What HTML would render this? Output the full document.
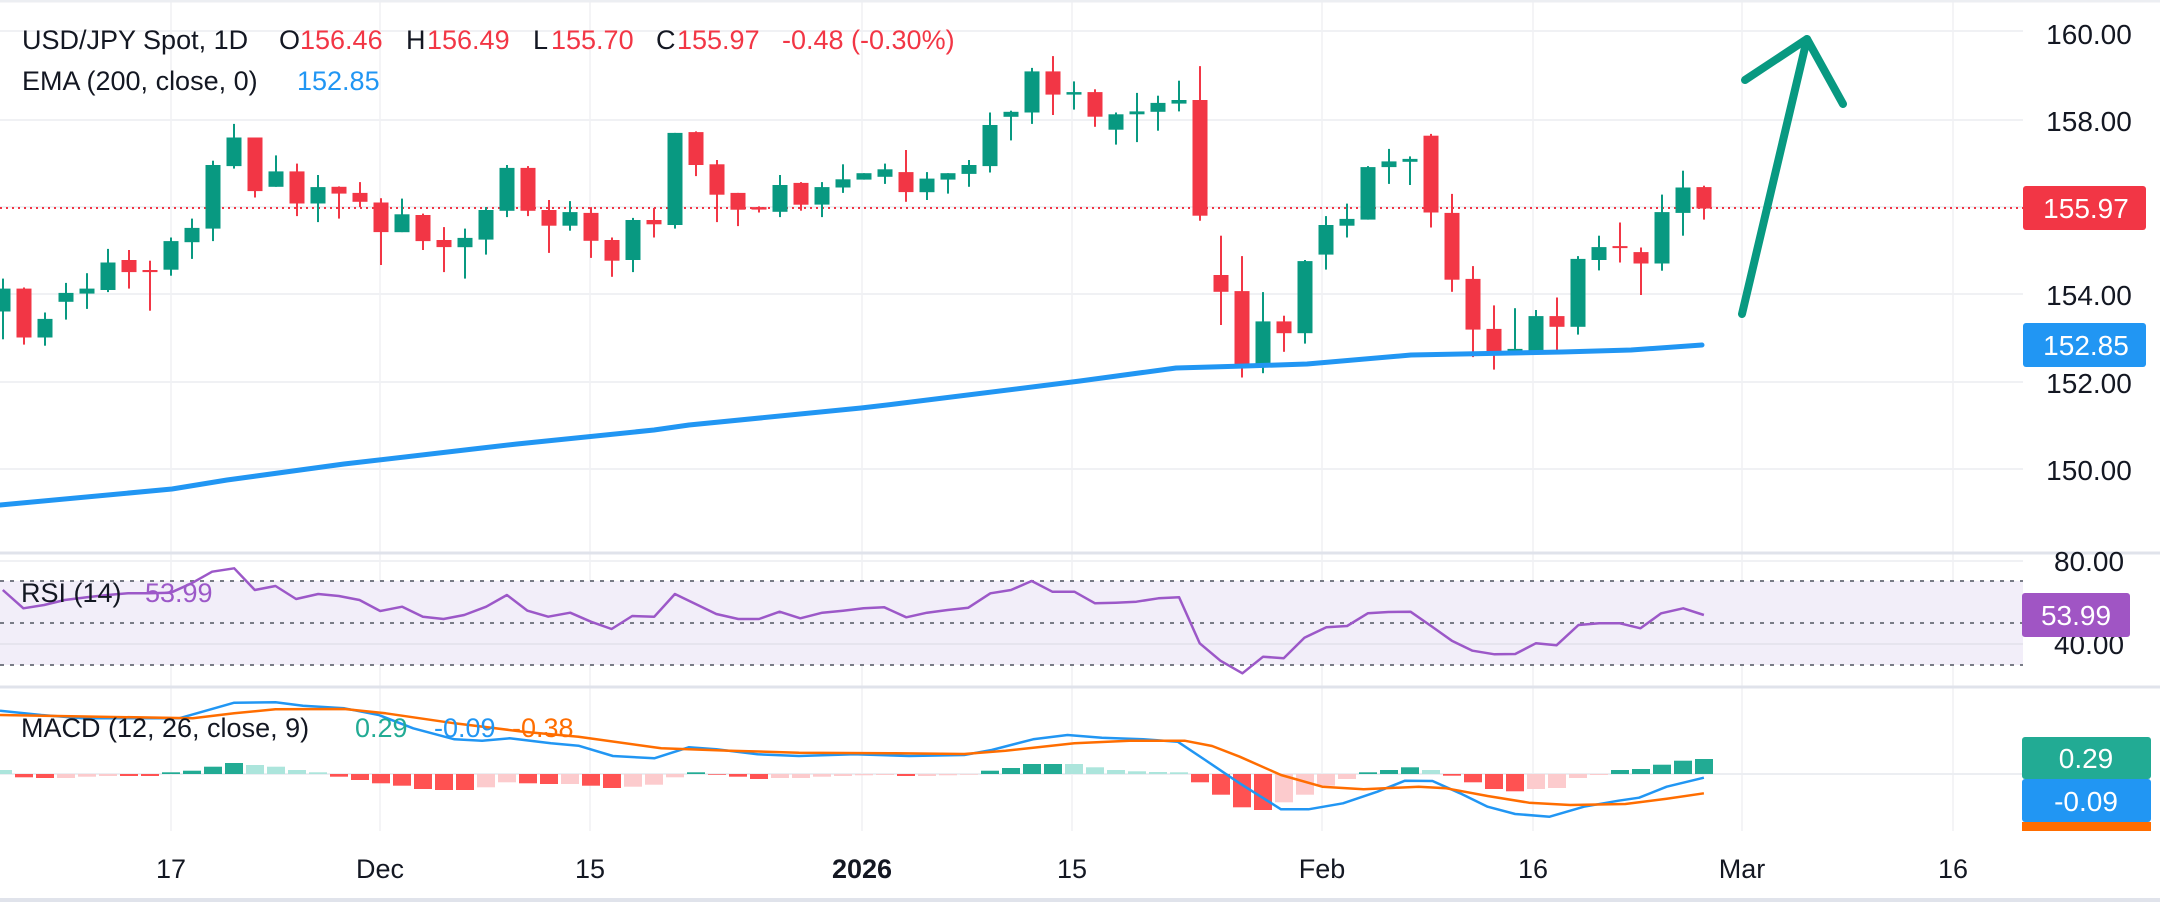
<!DOCTYPE html>
<html><head><meta charset="utf-8">
<style>
html,body{margin:0;padding:0;background:#fff;}
body{width:2160px;height:902px;overflow:hidden;position:relative;font-family:"Liberation Sans",sans-serif;}
svg{position:absolute;left:0;top:0;}
</style></head>
<body>
<svg id="s" width="2160" height="902" xmlns="http://www.w3.org/2000/svg"></svg>
<script>
(function(){
var o=[];
function X(i){return 171+21*i;}
// grid
o.push('<rect x="0" y="0" width="2160" height="902" fill="#fff"/>');
var vx=[171,380,590,862,1072,1322,1533,1742,1953];
vx.forEach(function(x){o.push('<line x1="'+x+'" y1="0" x2="'+x+'" y2="831" stroke="#f0f1f4" stroke-width="1.5"/>');});
[31,120,207,294,382,469].forEach(function(y){o.push('<line x1="0" y1="'+y+'" x2="2023" y2="'+y+'" stroke="#f0f1f4" stroke-width="2"/>');});
o.push('<line x1="0" y1="1" x2="2160" y2="1" stroke="#eceef2" stroke-width="3"/>');
// candles (zoom coords: z1 x/1.452, y/2.8)
var z1=[[8,808,872,780,950,1],[35,808,945,805,965,0],[65,893,945,875,968,1],[95,820,845,792,895,1],[125,808,822,765,865,1],[156,735,812,697,818,1],[187,728,762,700,808,0],[217,756,762,730,870,0],[248,675,755,665,772,1],[278,638,678,612,725,1],[310,462,640,450,675,1],[340,385,465,347,472,1],[370,385,535,385,553,0],[400,480,523,435,523,1],[431,480,570,458,605,0],[461,524,570,490,622,1],[491,523,542,522,612,0],[521,540,565,510,580,0],[551,567,650,555,742,0],[582,600,650,556,650,1],[612,602,675,598,700,0],[643,672,692,636,762,0],[674,666,692,640,780,1],[704,588,671,580,713,1],[734,470,590,462,608,1],[765,470,590,465,605,0],[795,588,632,560,708,0],[826,594,632,563,646,1],[856,596,674,580,722,0],[887,672,730,665,775,0],[917,616,728,610,762,1],[947,616,628,582,665,0],[978,372,630,372,640,1],[1009,370,462,368,493,0],[1039,460,545,448,622,0],[1070,540,587,540,633,0],[1100,580,587,578,595,0],[1130,518,593,490,608,1],[1161,512,573,510,590,0],[1191,524,573,510,608,1],[1222,502,525,460,540,1],[1252,485,503,485,503,1],[1283,474,495,458,515,1],[1313,482,538,420,565,0],[1344,500,538,482,560,1],[1374,485,503,485,542,1],[1405,462,487,448,523,1],[1435,350,465,315,483,1],[1466,313,327,310,393,1],[1496,200,315,190,347,1],[1527,200,265,157,322,0],[1557,258,265,228,307,1]];
var z2=[[18,258,327,250,355,0],[49,320,363,315,405,1],[79,312,320,260,398,1],[110,288,313,268,366,1],[140,280,290,226,312,1],[171,280,604,185,618,0],[202,770,817,660,910,0],[232,815,1024,717,1057,0],[262,900,1022,818,1045,1],[293,900,933,884,985,0],[323,731,933,728,962,1],[354,630,713,605,755,1],[384,613,632,570,665,1],[415,468,615,465,615,1],[445,452,468,417,515,1],[476,445,453,438,518,1],[506,380,595,375,637,0],[537,596,783,543,817,0],[567,781,923,745,1000,0],[598,921,986,855,1035,0],[628,977,986,863,993,1],[659,885,986,868,990,1],[689,885,915,833,982,0],[720,725,915,717,937,1],[750,692,728,660,757,1],[781,689,693,623,735,0],[811,706,738,693,826,0],[842,594,738,545,758,1],[872,525,596,478,660,1],[903,524,584,520,615,0]];
var c=[];
z1.forEach(function(a,k){c.push([X(k-8)].concat(a.slice(1,5).map(function(v){return v/2.8;})).concat([a[5]]));});
z2.forEach(function(a,k){c.push([X(k+44)].concat(a.slice(1,5).map(function(v){return v/2.8;})).concat([a[5]]));});
// dotted price line
o.push('<line x1="0" y1="208" x2="2023" y2="208" stroke="#f23645" stroke-width="2" stroke-dasharray="2,4"/>');
c.forEach(function(a){
 var col=a[5]?'#089981':'#f23645';
 o.push('<line x1="'+a[0]+'" y1="'+a[3].toFixed(1)+'" x2="'+a[0]+'" y2="'+a[4].toFixed(1)+'" stroke="'+col+'" stroke-width="2"/>');
 var h=Math.max(2,a[2]-a[1]);
 o.push('<rect x="'+(a[0]-7.5)+'" y="'+a[1].toFixed(1)+'" width="15" height="'+h.toFixed(1)+'" fill="'+col+'"/>');
});
// EMA
var ema=[[0,505],[172,489],[227,480],[344,464],[482,448],[517,444],[654,430],[689,425],[861,408],[895,404],[1080,381],[1176,368],[1245,366],[1307,364],[1411,355],[1562,352],[1631,350],[1702,345]];
o.push('<polyline points="'+ema.map(function(p){return p.join(',');}).join(' ')+'" fill="none" stroke="#2196f3" stroke-width="5" stroke-linejoin="round" stroke-linecap="round"/>');
// arrow
o.push('<g stroke="#089981" stroke-width="8" fill="none" stroke-linecap="round" stroke-linejoin="round"><line x1="1742" y1="314" x2="1807" y2="39"/><polyline points="1745,80 1807,39 1843,104"/></g>');
// pane dividers
o.push('<line x1="0" y1="553" x2="2160" y2="553" stroke="#e0e3eb" stroke-width="3"/>');
o.push('<line x1="0" y1="687" x2="2160" y2="687" stroke="#e0e3eb" stroke-width="3"/>');
o.push('<line x1="0" y1="900" x2="2160" y2="900" stroke="#e0e3eb" stroke-width="4"/>');
// RSI pane
o.push('<rect x="0" y="581" width="2023" height="84" fill="#f2eef9"/>');
o.push('<line x1="0" y1="561" x2="2023" y2="561" stroke="#f0f1f4" stroke-width="2"/>');
o.push('<line x1="0" y1="644" x2="2023" y2="644" stroke="#e6e4ee" stroke-width="2"/>');
[581,623,665].forEach(function(y){o.push('<line x1="0" y1="'+y+'" x2="2023" y2="'+y+'" stroke="#787b86" stroke-width="2" stroke-dasharray="4,6"/>');});
var r=[[2,150],[17,205],[32,195],[47,180],[63,172],[78,165],[93,160],[108,160],[124,158],[139,130],[154,95],[170,85],[185,150],[200,138],[215,177],[231,162],[246,168],[261,180],[276,213],[292,200],[307,230],[322,237],[337,225],[353,200],[368,165],[383,212],[398,230],[414,218],[429,245],[444,267],[459,228],[475,230],[490,162],[505,192],[520,222],[536,237],[551,237],[566,215],[581,235],[597,218],[612,212],[627,205],[642,202],[658,232],[673,218],[688,210],[703,203],[719,160],[734,150],[749,123],[764,155],[780,155],[795,190],[810,188],[825,185],[841,175],[856,172],[871,310],[886,362],[902,400],[917,350],[932,355],[947,293],[963,262],[978,258],[993,220],[1008,216],[1024,215],[1039,258],[1054,302],[1069,332],[1085,343],[1100,342],[1115,310],[1130,316],[1146,255],[1161,250],[1176,250],[1191,265],[1206,220],[1222,205],[1237,225]];
o.push('<polyline points="'+r.map(function(p){return (p[0]/0.726).toFixed(1)+','+(540+p[1]/3).toFixed(1);}).join(' ')+'" fill="none" stroke="#9c58c8" stroke-width="2.5" stroke-linejoin="round"/>');
// MACD
o.push('<line x1="0" y1="774" x2="2023" y2="774" stroke="#eceef2" stroke-width="2"/>');
var hv=[[12,'LG'],[-10,'R'],[-12,'R'],[-12,'LR'],[-8,'LR'],[-6,'LR'],[-6,'R'],[-6,'R'],[5,'G'],[10,'G'],[22,'G'],[33,'G'],[27,'LG'],[22,'LG'],[12,'LG'],[5,'LG'],[-8,'R'],[-18,'R'],[-28,'R'],[-35,'R'],[-45,'R'],[-48,'R'],[-48,'R'],[-40,'LR'],[-25,'LR'],[-28,'R'],[-30,'R'],[-30,'LR'],[-35,'R'],[-42,'R'],[-38,'LR'],[-32,'LR'],[-10,'LR'],[5,'G'],[-2,'R'],[-8,'R'],[-15,'R'],[-12,'LR'],[-12,'LR'],[-8,'LR'],[-6,'LR'],[-4,'LR'],[-3,'LR'],[-6,'R'],[-6,'LR'],[-4,'LR'],[-2,'LR'],[10,'G'],[18,'G'],[30,'G'],[30,'G'],[30,'LG'],[20,'LG'],[12,'LG'],[8,'LG'],[6,'LG'],[5,'LG'],[-25,'R'],[-62,'R'],[-100,'R'],[-108,'R'],[-85,'LR'],[-62,'LR'],[-35,'LR'],[-15,'LR'],[5,'G'],[12,'G'],[20,'G'],[12,'LG'],[-5,'R'],[-25,'R'],[-45,'R'],[-52,'R'],[-45,'LR'],[-42,'LR'],[-12,'LR'],[-3,'LR'],[12,'G'],[15,'G'],[28,'G'],[40,'G'],[45,'G']];
var hc={G:'#22ab94',LG:'#ace5dc',R:'#ff5252',LR:'#fccbcd'};
hv.forEach(function(h,k){var x=X(k-8)-9,v=h[0]/3;var y=v>0?774-v:774;o.push('<rect x="'+x+'" y="'+y.toFixed(1)+'" width="18" height="'+Math.abs(v).toFixed(1)+'" fill="'+hc[h[1]]+'"/>');});
function pl(a,col,w){return '<polyline points="'+a.map(function(p){return (p[0]/0.726).toFixed(1)+','+(540+p[1]/3).toFixed(1);}).join(' ')+'" fill="none" stroke="'+col+'" stroke-width="'+w+'" stroke-linejoin="round"/>';}
var mb=[[0,512],[30,525],[60,535],[100,535],[130,535],[170,488],[200,487],[220,497],[250,505],[275,525],[300,565],[330,598],[350,602],[370,595],[400,610],[420,617],[445,648],[475,655],[500,622],[520,628],[550,643],[580,648],[620,643],[660,648],[700,645],[720,630],[750,598],[775,585],[800,593],[830,598],[855,605],[875,660],[900,730],[930,808],[950,808],[975,790],[1000,755],[1020,722],[1040,723],[1060,760],[1080,800],[1100,822],[1125,830],[1150,800],[1175,782],[1190,773],[1210,740],[1237,713]];
var ms=[[0,525],[140,535],[170,520],[200,508],[250,507],[280,520],[330,550],[380,575],[420,590],[480,625],[530,632],[580,638],[650,640],[700,642],[730,632],[780,610],[820,602],[860,602],[880,618],[900,650],[930,705],[960,740],[990,748],[1030,740],[1050,745],[1080,768],[1110,788],[1140,795],[1180,792],[1210,776],[1237,760]];
o.push(pl(mb,'#2196f3',2.5));
o.push(pl(ms,'#ff6d00',2.5));
// right axis
o.push('<rect x="2023" y="0" width="137" height="902" fill="#fff" fill-opacity="0"/>');
var T='font-family="Liberation Sans, sans-serif"';
[[34,'160.00'],[121,'158.00'],[295,'154.00'],[383,'152.00'],[470,'150.00']].forEach(function(a){o.push('<text x="2089" y="'+(a[0]+10)+'" '+T+' font-size="28" fill="#131722" text-anchor="middle">'+a[1]+'</text>');});
o.push('<rect x="2023" y="186" width="123" height="44" rx="3" fill="#f23645"/><text x="2086" y="218" '+T+' font-size="28" fill="#fff" text-anchor="middle">155.97</text>');
o.push('<rect x="2023" y="323" width="123" height="44" rx="3" fill="#2196f3"/><text x="2086" y="355" '+T+' font-size="28" fill="#fff" text-anchor="middle">152.85</text>');
o.push('<text x="2089" y="571" '+T+' font-size="28" fill="#131722" text-anchor="middle">80.00</text>');
o.push('<text x="2089" y="654" '+T+' font-size="28" fill="#131722" text-anchor="middle">40.00</text>');
o.push('<rect x="2022" y="593" width="108" height="44" rx="3" fill="#a055c4"/><text x="2076" y="625" '+T+' font-size="28" fill="#fff" text-anchor="middle">53.99</text>');
o.push('<rect x="2022" y="737" width="129" height="42" rx="3" fill="#22ab94"/><text x="2086" y="768" '+T+' font-size="28" fill="#fff" text-anchor="middle">0.29</text>');
o.push('<rect x="2022" y="779" width="129" height="43" rx="3" fill="#2196f3"/><text x="2086" y="811" '+T+' font-size="28" fill="#fff" text-anchor="middle">-0.09</text>');
o.push('<rect x="2022" y="822" width="129" height="9" fill="#ff6d00"/>');
// date axis
[[171,'17'],[380,'Dec'],[590,'15'],[862,'2026'],[1072,'15'],[1322,'Feb'],[1533,'16'],[1742,'Mar'],[1953,'16']].forEach(function(a){o.push('<text x="'+a[0]+'" y="878" '+T+' font-size="27" fill="#131722" text-anchor="middle"'+(a[1]=='2026'?' font-weight="bold"':'')+'>'+a[1]+'</text>');});
// legends
function t(x,y,s,col,fs){o.push('<text x="'+x+'" y="'+y+'" '+T+' font-size="'+(fs||27)+'" fill="'+col+'">'+s+'</text>');}
t(22,49,'USD/JPY Spot, 1D','#131722');
t(279,49,'O','#131722');t(300,49,'156.46','#f23645');
t(406,49,'H','#131722');t(427,49,'156.49','#f23645');
t(533,49,'L','#131722');t(551,49,'155.70','#f23645');
t(656,49,'C','#131722');t(677,49,'155.97','#f23645');
t(782,49,'-0.48 (-0.30%)','#f23645');
t(22,90,'EMA (200, close, 0)','#131722');t(297,90,'152.85','#2196f3');
t(21,602,'RSI (14)','#131722');t(145,602,'53.99','#9c58c8');
t(21,737,'MACD (12, 26, close, 9)','#131722');t(355,737,'0.29','#22ab94');t(434,737,'-0.09','#2196f3');t(512,737,'-0.38','#ff6d00');
document.getElementById('s').innerHTML=o.join('');
})();
</script>
</body></html>
